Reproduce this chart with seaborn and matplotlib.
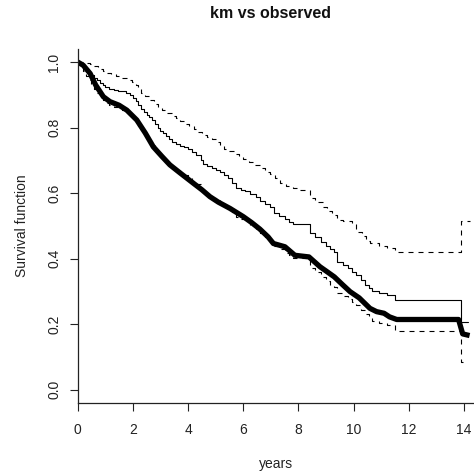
import matplotlib
matplotlib.use("Agg")
import matplotlib.pyplot as plt
import seaborn as sns
import pandas as pd

# ---- data ----
km_times = [0, 0.1, 0.2, 0.3, 0.4, 0.5, 0.6, 0.7, 0.8, 0.9, 1.0, 1.15, 1.3, 1.45, 1.6, 1.75,
            1.9, 2.0, 2.1, 2.2, 2.3, 2.4, 2.5, 2.6, 2.7, 2.8, 2.9, 3.0, 3.1, 3.2, 3.3, 3.4,
            3.55, 3.7, 3.85, 4.0, 4.15, 4.3, 4.45, 4.55, 4.7, 4.85, 5.0, 5.15, 5.3, 5.45,
            5.6, 5.75, 5.9, 6.05, 6.25, 6.45, 6.6, 6.8, 6.95, 7.1, 7.3, 7.5, 7.65, 7.8,
            8.42, 8.6, 8.8, 9.0, 9.15, 9.3, 9.4, 9.6, 9.8, 9.95, 10.1, 10.25, 10.4, 10.55,
            10.65, 10.9, 11.2, 11.5, 13.9, 14.15]
km_surv = [1.0, 0.993, 0.985, 0.977, 0.97, 0.961, 0.952, 0.944, 0.936, 0.929, 0.924, 0.919,
           0.916, 0.913, 0.91, 0.905, 0.898, 0.89, 0.88, 0.868, 0.857, 0.847, 0.839, 0.831,
           0.822, 0.81, 0.8, 0.79, 0.782, 0.774, 0.765, 0.757, 0.75, 0.745, 0.74, 0.733,
           0.725, 0.716, 0.702, 0.69, 0.683, 0.677, 0.671, 0.664, 0.656, 0.647, 0.632, 0.615,
           0.61, 0.605, 0.598, 0.588, 0.577, 0.567, 0.557, 0.538, 0.53, 0.52, 0.513, 0.507,
           0.477, 0.465, 0.45, 0.437, 0.428, 0.42, 0.39, 0.38, 0.372, 0.36, 0.35, 0.335,
           0.32, 0.31, 0.302, 0.295, 0.289, 0.275, 0.205, 0.205]
km_lower = [1.0, 0.985, 0.972, 0.958, 0.945, 0.932, 0.918, 0.905, 0.893, 0.883, 0.876, 0.869,
            0.864, 0.859, 0.854, 0.848, 0.84, 0.83, 0.818, 0.805, 0.792, 0.781, 0.77, 0.759,
            0.748, 0.736, 0.725, 0.714, 0.705, 0.696, 0.686, 0.677, 0.669, 0.662, 0.655, 0.647,
            0.638, 0.628, 0.613, 0.6, 0.592, 0.585, 0.578, 0.57, 0.561, 0.553, 0.543, 0.528,
            0.52, 0.512, 0.502, 0.49, 0.478, 0.466, 0.455, 0.438, 0.428, 0.418, 0.41, 0.402,
            0.37, 0.358, 0.343, 0.33, 0.32, 0.312, 0.295, 0.285, 0.278, 0.268, 0.257, 0.244,
            0.23, 0.22, 0.21, 0.203, 0.197, 0.18, 0.085, 0.085]

up_times = [0, 0.3, 0.45, 0.6, 0.75, 0.9, 1.05, 1.2, 1.4, 1.6, 1.8, 1.95, 2.1, 2.2, 2.3, 2.45,
            2.6, 2.75, 2.9, 3.05, 3.2, 3.4, 3.55, 3.7, 3.9, 4.05, 4.2, 4.35, 4.5, 4.7, 4.85,
            5.0, 5.15, 5.3, 5.5, 5.7, 5.85, 6.0, 6.2, 6.4, 6.6, 6.8, 6.97, 7.15, 7.33, 7.55,
            7.8, 8.0, 8.42, 8.6, 8.9, 9.05, 9.2, 9.38, 9.6, 9.95, 10.1, 10.3, 10.45, 10.59,
            10.9, 11.2, 11.5, 13.9, 14.2]
km_upper = [1.0, 0.998, 0.993, 0.987, 0.98, 0.973, 0.967, 0.962, 0.956, 0.95, 0.945, 0.94,
            0.93, 0.918, 0.906, 0.895, 0.885, 0.872, 0.862, 0.852, 0.845, 0.836, 0.828, 0.82,
            0.812, 0.805, 0.795, 0.785, 0.777, 0.77, 0.764, 0.757, 0.745, 0.735, 0.727, 0.72,
            0.712, 0.705, 0.695, 0.685, 0.675, 0.665, 0.658, 0.645, 0.632, 0.622, 0.615, 0.61,
            0.584, 0.574, 0.558, 0.545, 0.532, 0.518, 0.514, 0.51, 0.482, 0.47, 0.455, 0.446,
            0.438, 0.432, 0.42, 0.515, 0.515]

obs_times = [0, 0.2, 0.45, 0.65, 0.93, 1.17, 1.5, 1.78, 2.14, 2.45, 2.74, 3.05, 3.34, 3.7,
             4.19, 4.5, 4.79, 5.1, 5.52, 6.0, 6.3, 6.6, 6.9, 7.09, 7.51, 7.87, 8.38, 8.78,
             9.0, 9.3, 9.6, 9.87, 10.2, 10.59, 10.83, 11.1, 11.3, 11.56, 13.8, 13.95, 14.2]
obs_surv = [1.0, 0.99, 0.965, 0.93, 0.894, 0.879, 0.868, 0.853, 0.823, 0.783, 0.741, 0.712,
            0.686, 0.662, 0.63, 0.61, 0.589, 0.572, 0.553, 0.528, 0.51, 0.49, 0.466, 0.446,
            0.436, 0.41, 0.405, 0.375, 0.362, 0.344, 0.32, 0.299, 0.28, 0.248, 0.238, 0.233,
            0.222, 0.214, 0.214, 0.17, 0.165]

x_ticks = [0, 2, 4, 6, 8, 10, 12, 14]
y_ticks = [0.0, 0.2, 0.4, 0.6, 0.8, 1.0]
y_tick_labels = ["0.0", "0.2", "0.4", "0.6", "0.8", "1.0"]

# ---- style ----
sns.set_theme(style="white")
plt.rcParams["font.family"] = ["Liberation Sans", "DejaVu Sans"]

fig = plt.figure(figsize=(4.74, 4.74), dpi=100)
ax = fig.add_axes([77.7 / 474, 1 - 402.7 / 474, 1 - 77.7 / 474, (402.7 - 48.9) / 474])

km_df = pd.DataFrame({"t": km_times, "s": km_surv, "l": km_lower})
up_df = pd.DataFrame({"t": up_times, "u": km_upper})
obs_df = pd.DataFrame({"t": obs_times, "s": obs_surv})

sns.lineplot(data=km_df, x="t", y="s", ax=ax, color="black", lw=0.8,
             drawstyle="steps-post", estimator=None, sort=False)
sns.lineplot(data=up_df, x="t", y="u", ax=ax, color="black", lw=0.8,
             drawstyle="steps-post", estimator=None, sort=False,
             linestyle=(0, (4.5, 4.5)))
sns.lineplot(data=km_df, x="t", y="l", ax=ax, color="black", lw=0.8,
             drawstyle="steps-post", estimator=None, sort=False,
             linestyle=(0, (4.5, 4.5)))
sns.lineplot(data=obs_df, x="t", y="s", ax=ax, color="black", lw=3.8,
             estimator=None, sort=False, solid_joinstyle="round", solid_capstyle="butt")

ax.set_xlim(0, 14.36)
ax.set_ylim(-0.04, 1.04)
ax.set_xticks(x_ticks)
ax.set_yticks(y_ticks)
ax.set_yticklabels(y_tick_labels)

for side in ["top", "right"]:
    ax.spines[side].set_visible(False)
for side in ["left", "bottom"]:
    ax.spines[side].set_color("#222222")
    ax.spines[side].set_linewidth(0.9)

ax.tick_params(axis="both", which="major", direction="out", length=5.8, width=0.8,
               color="#222222", labelsize=10, labelcolor="#222222",
               bottom=True, left=True)
ax.tick_params(axis="x", pad=9)
ax.tick_params(axis="y", pad=6, labelrotation=90)
for lbl in ax.get_yticklabels():
    lbl.set_verticalalignment("center")

ax.set_xlabel("years", fontsize=10, color="#222222", labelpad=14)
ax.set_ylabel("Survival function", fontsize=10, color="#222222", labelpad=13)
fig.text(270 / 474, 1 - 14 / 474, "km vs observed", ha="center", va="center",
         fontsize=11.5, fontweight="bold", color="#111111")

fig.savefig("out.png", dpi=100)
